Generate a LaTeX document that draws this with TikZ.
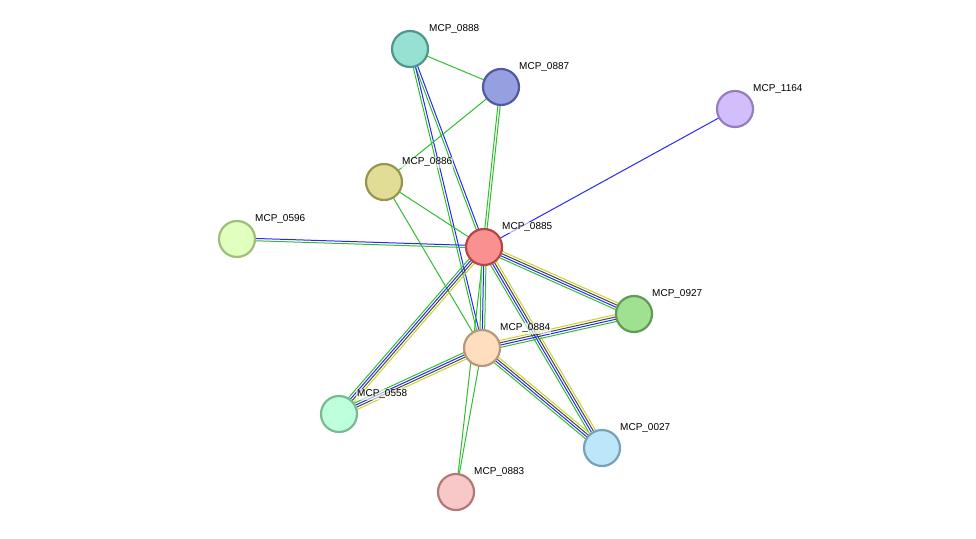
\documentclass[tikz,border=0pt]{standalone}
\usepackage{fontspec}
\setmainfont{Liberation Sans}
\usetikzlibrary{calc}
\definecolor{egreen}{RGB}{48,190,48}
\definecolor{eblue}{RGB}{40,40,240}
\definecolor{edark}{RGB}{70,70,70}
\definecolor{eyellow}{RGB}{200,210,40}
\tikzset{
  prot/.style={circle,draw,line width=2.2pt,minimum size=36pt,inner sep=0pt},
  lab/.style={font=\fontsize{10}{11}\selectfont,anchor=south west,inner sep=1pt,fill=white,fill opacity=0.6,text opacity=1},
}
% edge drawn as parallel coloured strands: \link{a}{b}{number}{colours}
\newcommand\link[4]{%
  \foreach \c [count=\i] in {#4}{%
    \pgfmathsetmacro\off{(\i-(#3+1)/2)*2.3}
    \draw[\c,line width=1pt] ($(#1)!\off pt!90:(#2)$) -- ($(#2)!\off pt!-90:(#1)$);
  }}
\begin{document}
\begin{tikzpicture}[x=1pt,y=-1pt]
\useasboundingbox (0,0) rectangle (976,538);
% node centres
\coordinate (c888) at (410,49);
\coordinate (c887) at (501,87);
\coordinate (c1164) at (735,109);
\coordinate (c886) at (384,182);
\coordinate (c596) at (237,239);
\coordinate (c885) at (484,247);
\coordinate (c927) at (634,314);
\coordinate (c884) at (482,348);
\coordinate (c558) at (339,414);
\coordinate (c027) at (602,448);
\coordinate (c883) at (456,492);

% edges
\link{c888}{c887}{1}{egreen}
\link{c888}{c885}{2}{egreen,eblue}
\link{c888}{c884}{2}{egreen,eblue}
\link{c887}{c886}{1}{egreen}
\link{c887}{c885}{2}{egreen,egreen}
\link{c1164}{c885}{1}{eblue}
\link{c886}{c885}{1}{egreen}
\link{c886}{c884}{1}{egreen}
\link{c596}{c885}{2}{egreen,eblue}
\link{c885}{c884}{3}{egreen,eblue,egreen}
\link{c885}{c883}{1}{egreen}
\link{c884}{c883}{1}{egreen}
\link{c885}{c927}{4}{egreen,eblue,edark,eyellow}
\link{c885}{c558}{4}{egreen,eblue,edark,eyellow}
\link{c885}{c027}{4}{egreen,eblue,edark,eyellow}
\link{c884}{c927}{4}{egreen,eblue,edark,eyellow}
\link{c884}{c558}{4}{egreen,eblue,edark,eyellow}
\link{c884}{c027}{4}{egreen,eblue,edark,eyellow}

% proteins
\node[prot,draw={rgb,255:red,80;green,150;blue,140},fill={rgb,255:red,150;green,225;blue,210}] (n888) at (c888) {};
\node[prot,draw={rgb,255:red,80;green,90;blue,160},fill={rgb,255:red,150;green,160;blue,225}] (n887) at (c887) {};
\node[prot,draw={rgb,255:red,150;green,125;blue,195},fill={rgb,255:red,210;green,190;blue,250}] (n1164) at (c1164) {};
\node[prot,draw={rgb,255:red,150;green,150;blue,80},fill={rgb,255:red,225;green,220;blue,150}] (n886) at (c886) {};
\node[prot,draw={rgb,255:red,160;green,190;blue,120},fill={rgb,255:red,225;green,255;blue,190}] (n596) at (c596) {};
\node[prot,draw={rgb,255:red,180;green,70;blue,70},fill={rgb,255:red,250;green,145;blue,145}] (n885) at (c885) {};
\node[prot,draw={rgb,255:red,95;green,155;blue,85},fill={rgb,255:red,160;green,225;blue,145}] (n927) at (c927) {};
\node[prot,draw={rgb,255:red,185;green,150;blue,125},fill={rgb,255:red,255;green,222;blue,192}] (n884) at (c884) {};
\node[prot,draw={rgb,255:red,120;green,185;blue,150},fill={rgb,255:red,190;green,255;blue,220}] (n558) at (c558) {};
\node[prot,draw={rgb,255:red,120;green,160;blue,185},fill={rgb,255:red,190;green,230;blue,250}] (n027) at (c027) {};
\node[prot,draw={rgb,255:red,180;green,120;blue,120},fill={rgb,255:red,248;green,200;blue,200}] (n883) at (c883) {};

% labels
\node[lab] at ($(c888)+(18,-14)$) {MCP\_0888};
\node[lab] at ($(c887)+(17,-14)$) {MCP\_0887};
\node[lab] at ($(c1164)+(17,-14)$) {MCP\_1164};
\node[lab] at ($(c886)+(17,-14)$) {MCP\_0886};
\node[lab] at ($(c596)+(17,-14)$) {MCP\_0596};
\node[lab] at ($(c885)+(17,-14)$) {MCP\_0885};
\node[lab] at ($(c927)+(17,-14)$) {MCP\_0927};
\node[lab] at ($(c884)+(17,-14)$) {MCP\_0884};
\node[lab] at ($(c558)+(17,-14)$) {MCP\_0558};
\node[lab] at ($(c027)+(17,-14)$) {MCP\_0027};
\node[lab] at ($(c883)+(17,-14)$) {MCP\_0883};
\end{tikzpicture}
\end{document}
